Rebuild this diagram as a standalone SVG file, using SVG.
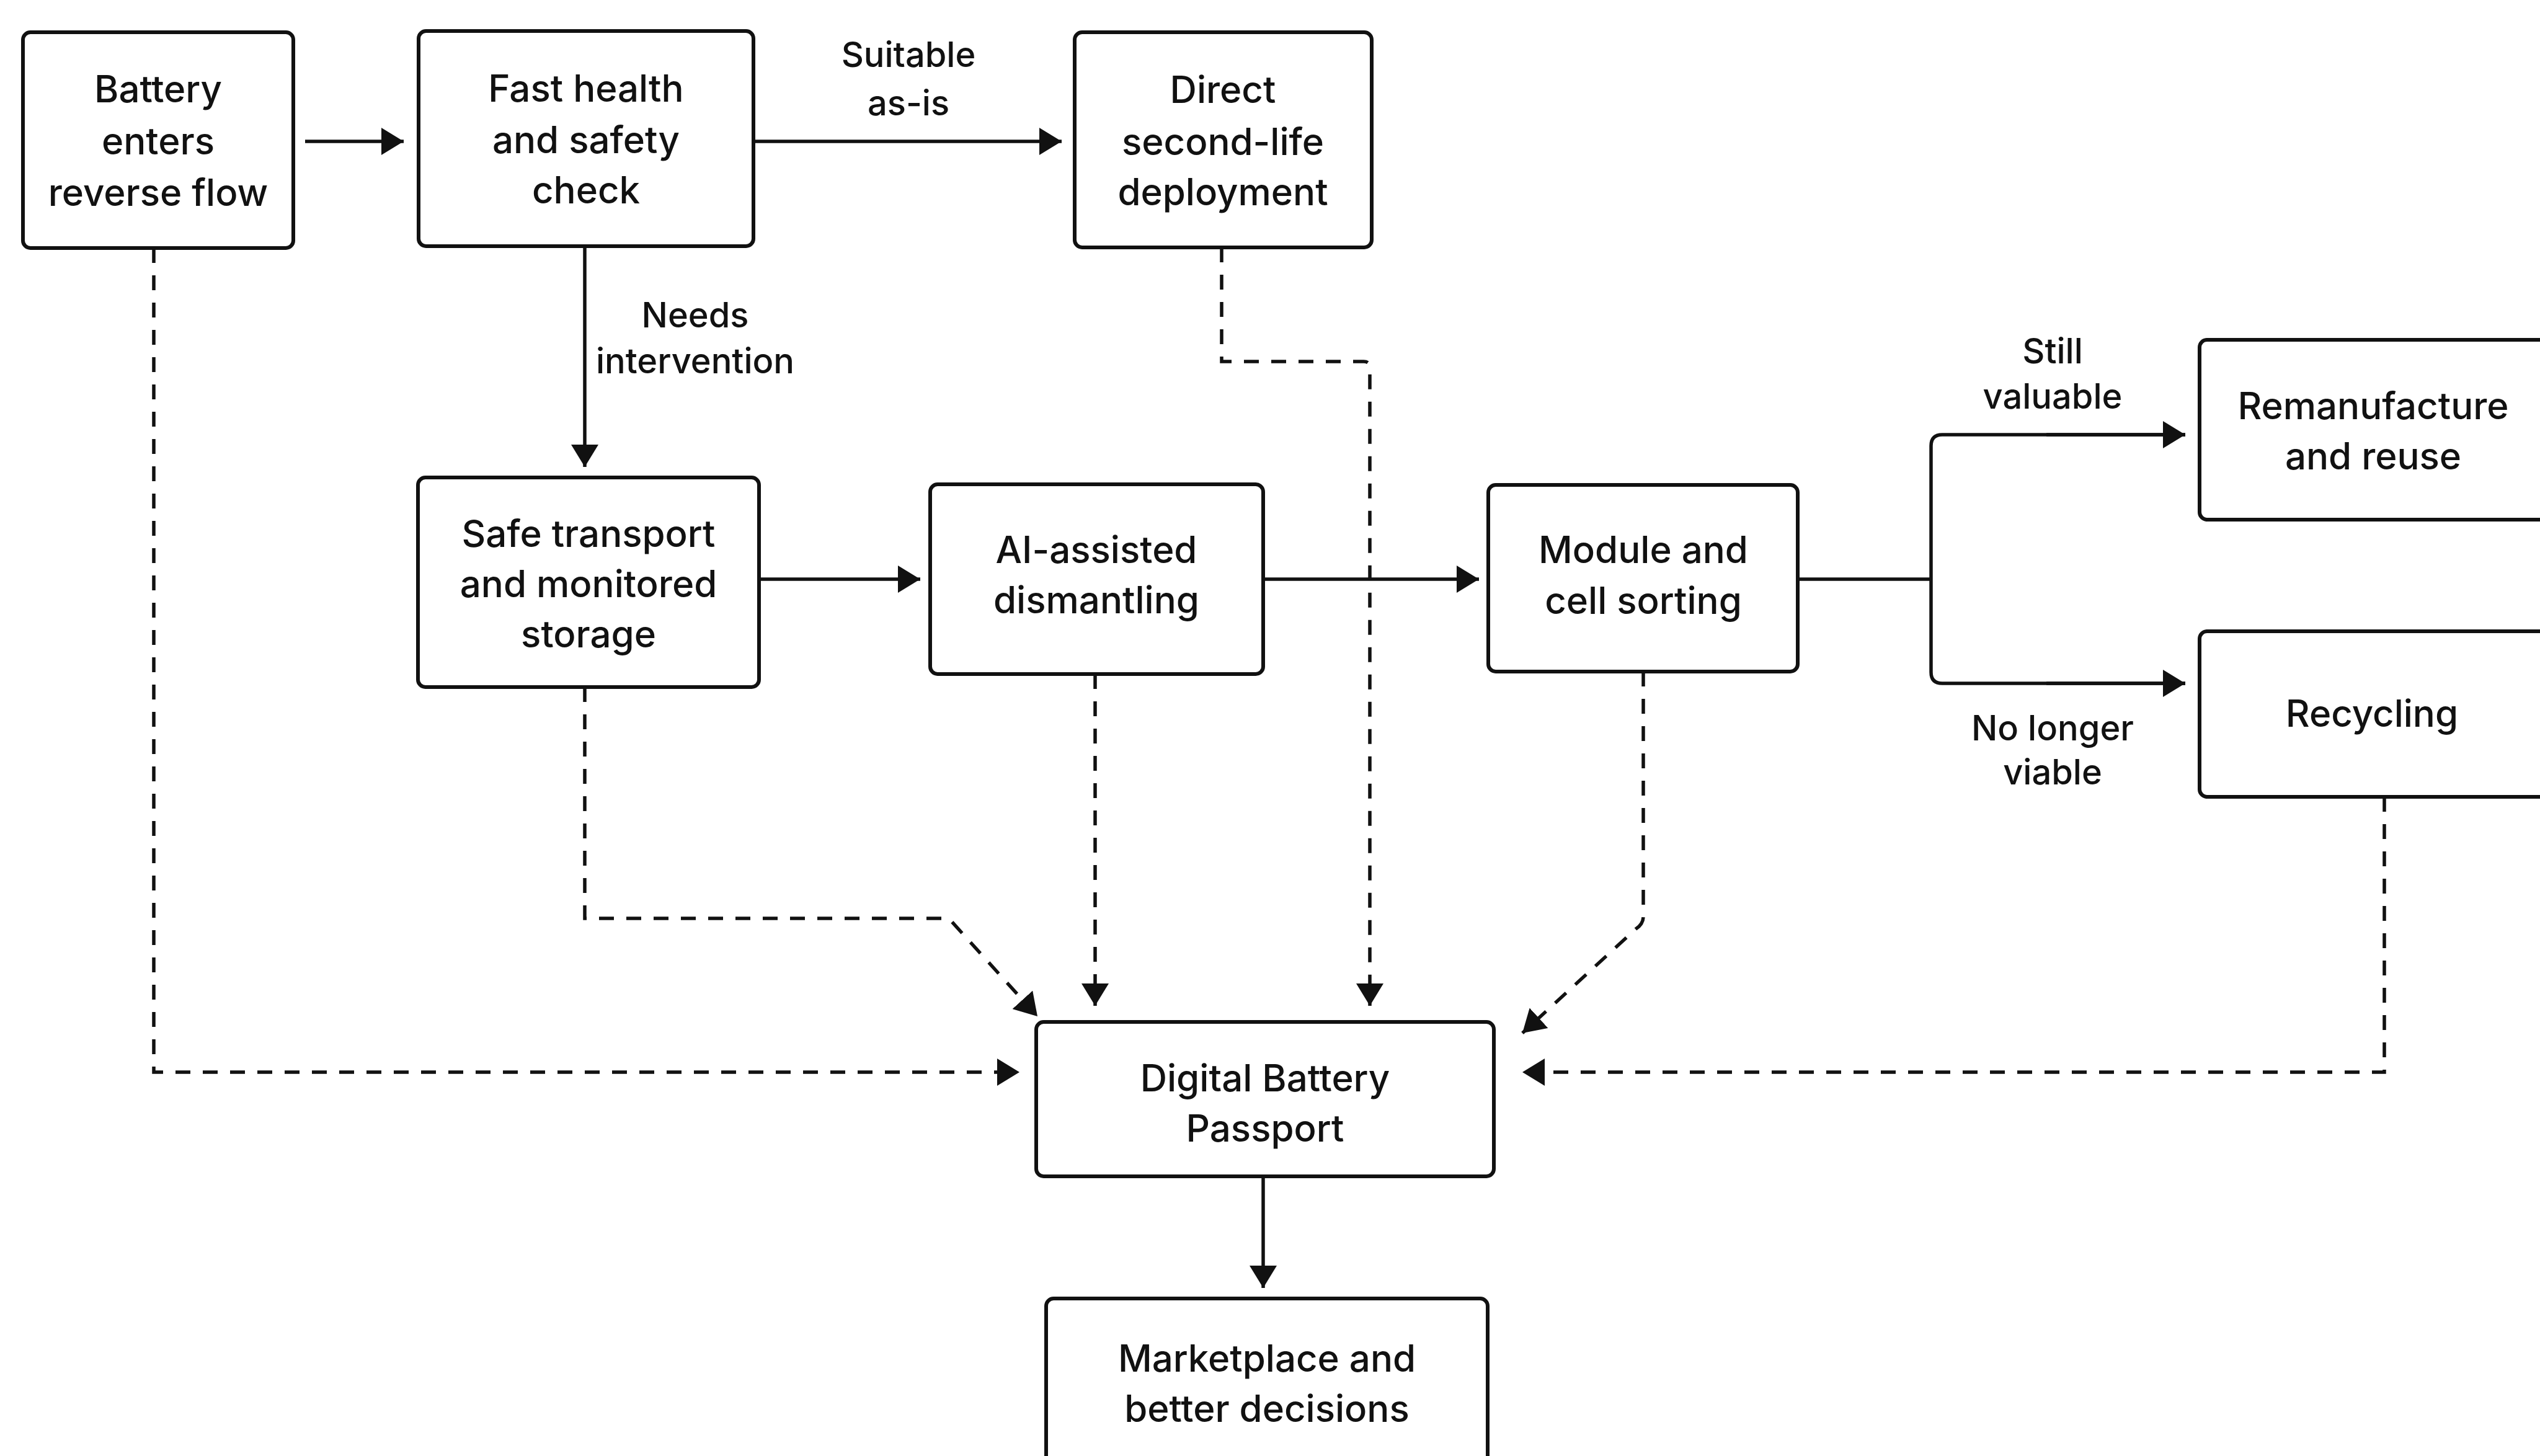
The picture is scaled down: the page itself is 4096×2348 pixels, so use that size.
<svg xmlns="http://www.w3.org/2000/svg" width="4096" height="2348" viewBox="0 0 4096 2348">
<style>
.box{fill:#fff;stroke:#111;stroke-width:6}
.t{font-family:Inter,"Noto Sans","Liberation Sans",sans-serif;font-size:60px;font-weight:500;fill:#111;text-anchor:middle}
.lbl{font-family:Inter,"Noto Sans","Liberation Sans",sans-serif;font-size:56px;font-weight:500;fill:#111;text-anchor:middle}
.ln{fill:none;stroke:#111;stroke-width:5.5}
.dash{fill:none;stroke:#111;stroke-width:5.5;stroke-dasharray:24 20}
</style>
<defs>
<marker id="ah" viewBox="0 0 36 44" markerWidth="36" markerHeight="44" refX="36" refY="22" orient="auto" markerUnits="userSpaceOnUse">
<path d="M0,0 L36,22 L0,44 Z" fill="#111"/>
</marker>
</defs>
<rect width="4096" height="2348" fill="#fff"/>
<g id="connectors">
<path class="ln" d="M492 228 H651" marker-end="url(#ah)"/>
<path class="ln" d="M1215 228 H1712" marker-end="url(#ah)"/>
<path class="ln" d="M943 397 V753" marker-end="url(#ah)"/>
<path class="ln" d="M1224 934 H1484" marker-end="url(#ah)"/>
<path class="ln" d="M2037 934 H2385" marker-end="url(#ah)"/>
<path class="ln" d="M2899 934 H3114"/>
<path class="ln" d="M3524 701 H3132 Q3114 701 3114 719 V1084 Q3114 1102 3132 1102 H3524" />
<path class="ln" d="M3300 701 H3524" marker-end="url(#ah)"/>
<path class="ln" d="M3300 1102 H3524" marker-end="url(#ah)"/>
<path class="ln" d="M2037 1897 V2077" marker-end="url(#ah)"/>
<path class="dash" d="M248 400 V1729 H1644" marker-end="url(#ah)"/>
<path class="dash" d="M1970 399 V583 H2199 Q2209 583 2209 593 V1622" marker-end="url(#ah)"/>
<path class="dash" d="M943 1108 V1481 H1530 L1673 1639" marker-end="url(#ah)"/>
<path class="dash" d="M1766 1087 V1622" marker-end="url(#ah)"/>
<path class="dash" d="M2650 1083 V1478 Q2650 1490 2638 1498 L2455 1666" marker-end="url(#ah)"/>
<path class="dash" d="M3845 1285 V1729 H2455" marker-end="url(#ah)"/>
</g>
<g id="labels">
<text class="lbl" x="1465" y="108">Suitable</text>
<text class="lbl" x="1465" y="186">as-is</text>
<text class="lbl" x="1121" y="528">Needs</text>
<text class="lbl" x="1121" y="602">intervention</text>
<text class="lbl" x="3310" y="586">Still</text>
<text class="lbl" x="3310" y="659">valuable</text>
<text class="lbl" x="3310" y="1194">No longer</text>
<text class="lbl" x="3310" y="1265">viable</text>
</g>
<g id="n-battery">
<rect class="box" x="37" y="52" width="436" height="348" rx="12"/>
<text class="t" x="255" y="165">Battery</text>
<text class="t" x="255" y="249">enters</text>
<text class="t" x="255" y="332">reverse flow</text>
</g>
<g id="n-fast">
<rect class="box" x="675" y="50" width="540" height="347" rx="12"/>
<text class="t" x="945" y="164">Fast health</text>
<text class="t" x="945" y="247">and safety</text>
<text class="t" x="945" y="328">check</text>
</g>
<g id="n-direct">
<rect class="box" x="1733" y="52" width="479" height="347" rx="12"/>
<text class="t" x="1972" y="166">Direct</text>
<text class="t" x="1972" y="250">second-life</text>
<text class="t" x="1972" y="331">deployment</text>
</g>
<g id="n-safe">
<rect class="box" x="674" y="770" width="550" height="338" rx="12"/>
<text class="t" x="949" y="882">Safe transport</text>
<text class="t" x="949" y="963">and monitored</text>
<text class="t" x="949" y="1044">storage</text>
</g>
<g id="n-ai">
<rect class="box" x="1500" y="781" width="537" height="306" rx="12"/>
<text class="t" x="1768" y="908">AI-assisted</text>
<text class="t" x="1768" y="989">dismantling</text>
</g>
<g id="n-module">
<rect class="box" x="2400" y="782" width="499" height="301" rx="12"/>
<text class="t" x="2650" y="908">Module and</text>
<text class="t" x="2650" y="990">cell sorting</text>
</g>
<g id="n-reman">
<rect class="box" x="3547" y="548" width="580" height="290" rx="12"/>
<text class="t" x="3827" y="676">Remanufacture</text>
<text class="t" x="3827" y="757">and reuse</text>
</g>
<g id="n-recycling">
<rect class="box" x="3547" y="1018" width="580" height="267" rx="12"/>
<text class="t" x="3825" y="1172">Recycling</text>
</g>
<g id="n-passport">
<rect class="box" x="1671" y="1648" width="738" height="249" rx="12"/>
<text class="t" x="2040" y="1760">Digital Battery</text>
<text class="t" x="2040" y="1841">Passport</text>
</g>
<g id="n-market">
<rect class="box" x="1687" y="2094" width="712" height="300" rx="12"/>
<text class="t" x="2043" y="2212">Marketplace and</text>
<text class="t" x="2043" y="2293">better decisions</text>
</g>
</svg>
